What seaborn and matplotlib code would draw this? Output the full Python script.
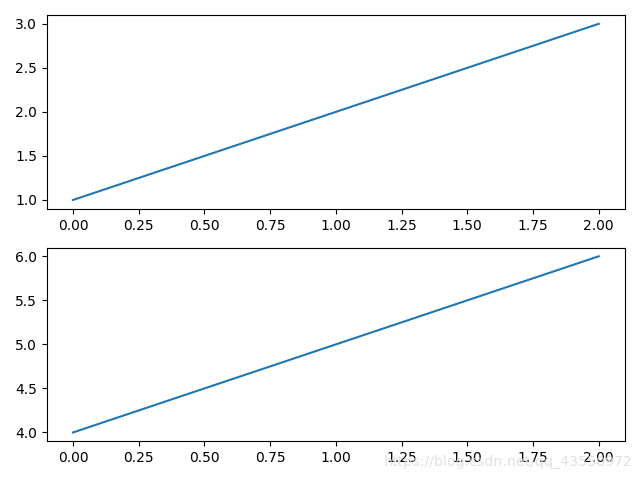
import matplotlib
matplotlib.use('Agg')
import matplotlib.pyplot as plt
import seaborn as sns

# Data for the two panels
x_vals = [0, 1, 2]
top_vals = [1, 2, 3]
bottom_vals = [4, 5, 6]

fig, axes = plt.subplots(2, 1, figsize=(6.4, 4.8), dpi=100)

sns.lineplot(x=x_vals, y=top_vals, ax=axes[0], color='#1f77b4')
sns.lineplot(x=x_vals, y=bottom_vals, ax=axes[1], color='#1f77b4')

plt.tight_layout()

# Watermark from the source image
fig.text(0.988, 0.037, 'https://blog.csdn.net/qq_43550972', ha='right', va='center',
         fontsize=10.2, color='#dcdcdc', alpha=0.85)

plt.savefig('out.png')
